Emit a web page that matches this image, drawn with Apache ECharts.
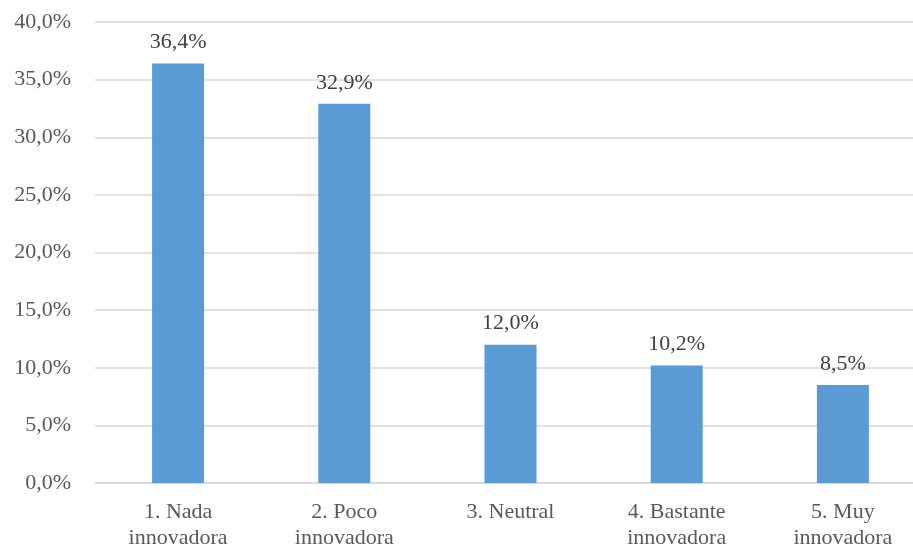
<!DOCTYPE html>
<html>
<head>
<meta charset="utf-8">
<script src="https://cdn.jsdelivr.net/npm/echarts@6/dist/echarts.min.js"></script>
<style>
  html,body{margin:0;padding:0;background:#fff;overflow:hidden;}
  #main{width:926px;height:552px;}
</style>
</head>
<body>
<div id="main"></div>
<script>
var categories=['1. Nada\ninnovadora','2. Poco\ninnovadora','3. Neutral','4. Bastante\ninnovadora','5. Muy\ninnovadora'];
var values=[36.4,32.9,12.0,10.2,8.5];

function pct(v){
  return v.toFixed(1).replace('.',',')+'%';
}

var chart=echarts.init(document.getElementById('main'));
var option={
  animation:false,
  textStyle:{fontFamily:'Liberation Serif'},
  grid:{left:95,top:22,right:0,height:461,containLabel:false},
  xAxis:{
    type:'category',
    data:categories,
    axisTick:{show:false},
    axisLine:{lineStyle:{color:'#d9d9d9',width:1.5}},
    axisLabel:{color:'#595959',fontSize:22,fontFamily:'Liberation Serif',lineHeight:26,margin:16,interval:0}
  },
  yAxis:{
    type:'value',
    min:0,
    max:40,
    interval:5,
    axisLine:{show:false},
    axisTick:{show:false},
    splitLine:{lineStyle:{color:'#d9d9d9',width:1.5}},
    axisLabel:{color:'#595959',fontSize:22,fontFamily:'Liberation Serif',margin:24,
      formatter:function(v){return pct(v);}}
  },
  series:[{
    type:'bar',
    data:values,
    barWidth:52,
    itemStyle:{color:'#5b9bd5'},
    label:{
      show:true,
      position:'top',
      distance:10,
      color:'#404040',
      fontSize:22,
      fontFamily:'Liberation Serif',
      formatter:function(p){return pct(p.value);}
    }
  }]
};
chart.setOption(option);
</script>
</body>
</html>
